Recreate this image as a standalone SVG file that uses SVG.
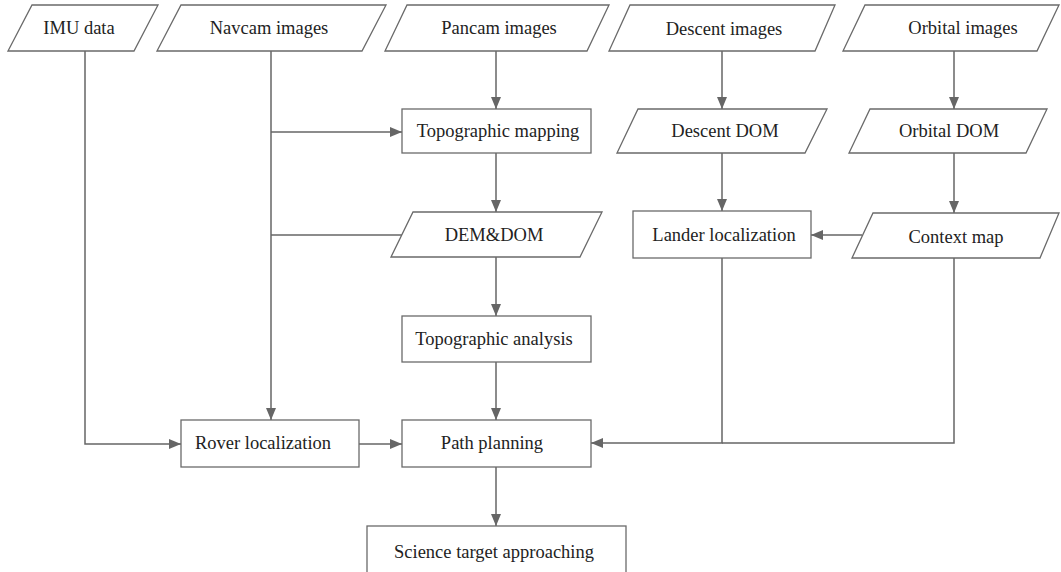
<svg xmlns="http://www.w3.org/2000/svg" width="1061" height="572" viewBox="0 0 1061 572">
<style>
.n{fill:#fff;stroke:#6a6a6a;stroke-width:1.3}
.t{font-family:"Liberation Serif","Times New Roman",serif;font-size:18.5px;fill:#222;text-anchor:middle;dominant-baseline:central}
.c{fill:none;stroke:#666;stroke-width:1.5}
.a{marker-end:url(#arr)}
</style>
<defs>
<marker id="arr" markerUnits="userSpaceOnUse" markerWidth="12" markerHeight="10" viewBox="0 0 12 10" refX="12" refY="5" orient="auto">
<path d="M0,0 L12,5 L0,10 z" fill="#666"/>
</marker>
</defs>
<rect width="1061" height="572" fill="#fff"/>
<g id="connectors">
<path class="c a" d="M85,51 V444 H181"/>
<path class="c a" d="M271,51 V420"/>
<path class="c a" d="M271,132 H402"/>
<path class="c" d="M271,235 H402"/>
<path class="c a" d="M496,51 V109"/>
<path class="c a" d="M496,153 V212"/>
<path class="c a" d="M496,257 V316"/>
<path class="c a" d="M496,362 V420"/>
<path class="c a" d="M359,444 H402"/>
<path class="c a" d="M496,467 V526"/>
<path class="c a" d="M722,51 V109"/>
<path class="c a" d="M722,153 V211"/>
<path class="c a" d="M954,51 V109"/>
<path class="c a" d="M954,153 V213"/>
<path class="c a" d="M862,235 H811"/>
<path class="c a" d="M722,258 V443 H591"/>
<path class="c" d="M954,258 V443 H722"/>
</g>
<g id="imu"><polygon class="n" points="32,5 158,5 134,51 8,51"/><text class="t" x="79" y="28">IMU data</text></g>
<g id="navcam"><polygon class="n" points="181,5 386,5 362,51 157,51"/><text class="t" x="269" y="28">Navcam images</text></g>
<g id="pancam"><polygon class="n" points="407,5 609,5 587,51 385,51"/><text class="t" x="499" y="28">Pancam images</text></g>
<g id="descent"><polygon class="n" points="630,5 835,5 815,51 609,51"/><text class="t" x="724" y="29">Descent images</text></g>
<g id="orbital"><polygon class="n" points="865,5 1059,5 1037,51 843,51"/><text class="t" x="963" y="28">Orbital images</text></g>
<g id="topomap"><rect class="n" x="402" y="109" width="189" height="44"/><text class="t" x="498" y="131">Topographic mapping</text></g>
<g id="descentdom"><polygon class="n" points="638,109 827,109 805,153 617,153"/><text class="t" x="725" y="131">Descent DOM</text></g>
<g id="orbitaldom"><polygon class="n" points="870,109 1047,109 1026,153 849,153"/><text class="t" x="949" y="131">Orbital DOM</text></g>
<g id="demdom"><polygon class="n" points="413,212 602,212 580,257 391,257"/><text class="t" x="494" y="235">DEM&amp;DOM</text></g>
<g id="lander"><rect class="n" x="633" y="211" width="178" height="47"/><text class="t" x="724" y="235">Lander localization</text></g>
<g id="context"><polygon class="n" points="873,213 1059,213 1040,258 852,258"/><text class="t" x="956" y="237">Context map</text></g>
<g id="topoanalysis"><rect class="n" x="402" y="316" width="189" height="46"/><text class="t" x="494" y="339">Topographic analysis</text></g>
<g id="rover"><rect class="n" x="181" y="420" width="178" height="47"/><text class="t" x="263" y="443">Rover localization</text></g>
<g id="path"><rect class="n" x="402" y="420" width="189" height="47"/><text class="t" x="492" y="443">Path planning</text></g>
<g id="science"><rect class="n" x="367" y="526" width="259" height="60"/><text class="t" x="494" y="552">Science target approaching</text></g>
</svg>
